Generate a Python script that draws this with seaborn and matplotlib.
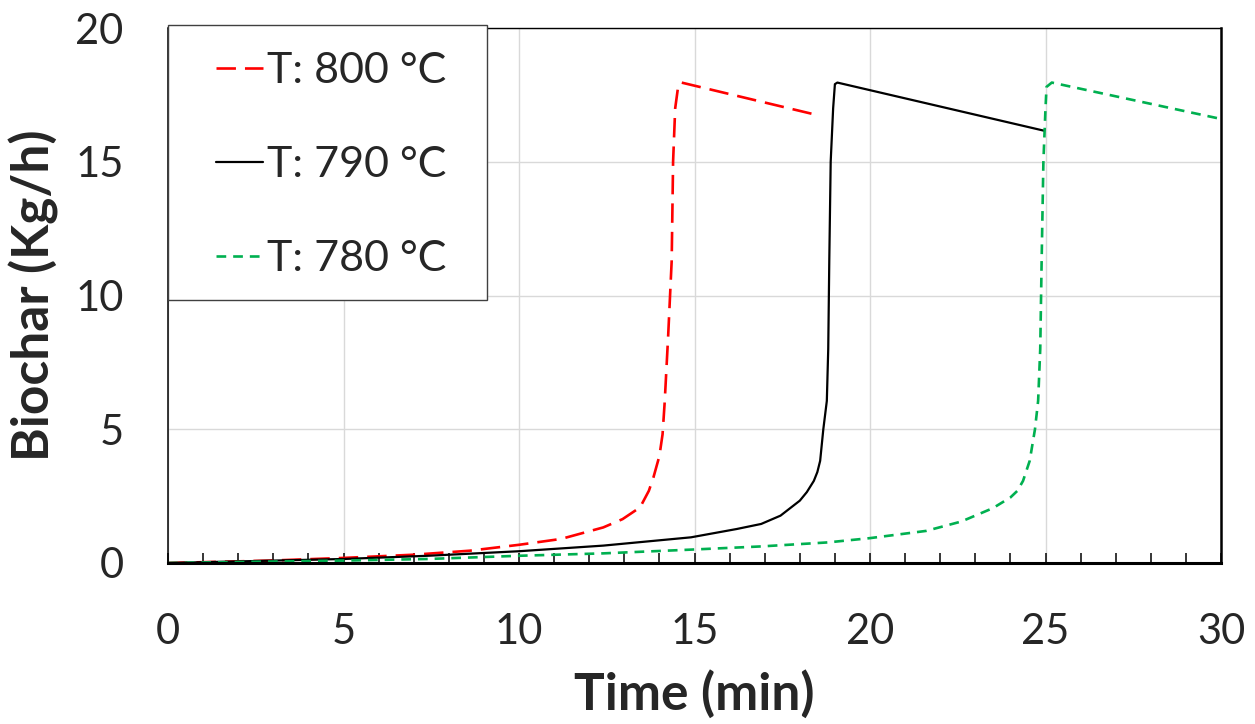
"""
Biochar production vs time for three reactor temperatures.
"""

import numpy as np
import matplotlib
matplotlib.use("Agg")
import matplotlib.pyplot as plt
from matplotlib.patches import Rectangle
from matplotlib.ticker import MultipleLocator
import seaborn as sns

# ──────────────────────────────────────────────────────────────────────────────
# Data
# ──────────────────────────────────────────────────────────────────────────────

t_800 = [0, 2.9, 5.0, 7.0, 8.6, 10.0, 11.2, 12.4, 12.95, 13.45, 13.7, 13.83,
         14.0, 14.09, 14.15, 14.25, 14.35, 14.39, 14.45, 14.54, 14.63, 18.48]
b_800 = [0, 0.09, 0.19, 0.31, 0.46, 0.68, 0.9, 1.33, 1.64, 2.08, 2.7, 3.2,
         4.0, 4.81, 6.0, 8.5, 11.3, 15.0, 17.0, 17.87, 17.96, 16.75]

t_790 = [0, 5.0, 7.4, 10.0, 12.4, 14.9, 16.2, 16.9, 17.45, 18.0, 18.2, 18.4,
         18.5, 18.58, 18.67, 18.77, 18.81, 18.84, 18.88, 18.95, 19.0, 19.07,
         24.96]
b_790 = [0, 0.15, 0.27, 0.44, 0.65, 0.96, 1.27, 1.46, 1.77, 2.33, 2.65, 3.07,
         3.4, 3.82, 5.0, 6.06, 8.0, 11.3, 15.0, 17.0, 17.9, 17.96, 16.16]

t_780 = [0, 5.0, 7.4, 10.0, 12.4, 14.9, 16.9, 18.8, 20.0, 21.6, 22.6, 23.5,
         24.0, 24.2, 24.36, 24.55, 24.7, 24.79, 24.85, 24.89, 24.94, 25.0,
         25.03, 25.18, 30.0]
b_780 = [0, 0.09, 0.15, 0.27, 0.36, 0.5, 0.62, 0.77, 0.93, 1.2, 1.55, 2.05,
         2.45, 2.7, 3.07, 3.82, 5.0, 6.06, 8.0, 11.3, 15.0, 17.0, 17.8, 17.96,
         16.6]

labels = ["T: 800 °C", "T: 790 °C", "T: 780 °C"]
x_ticks = [0, 5, 10, 15, 20, 25, 30]
y_ticks = [0, 5, 10, 15, 20]

# ──────────────────────────────────────────────────────────────────────────────
# Style
# ──────────────────────────────────────────────────────────────────────────────

sns.set_style("white")
plt.rcParams["font.family"] = ["Lato", "DejaVu Sans"]
plt.rcParams["lines.scale_dashes"] = False

W, H = 1255, 724

series = [
    (t_800, b_800, labels[0], "#ff0000", (0, (14, 6.5)), 1.9),
    (t_790, b_790, labels[1], "#000000", "-", 1.6),
    (t_780, b_780, labels[2], "#00b050", (0, (7, 5)), 1.9),
]

fig = plt.figure(figsize=(W / 100, H / 100), dpi=100)
ax = fig.add_axes([168 / W, 1 - 563 / H, (1221 - 168) / W, (563 - 28) / H])

for t, b, lab, col, ls, lw in series:
    sns.lineplot(x=t, y=b, ax=ax, color=col, linestyle=ls, lw=lw,
                 label=lab, sort=False, estimator=None)

ax.set_xlim(0, 30)
ax.set_ylim(0, 20)
ax.set_xticks(x_ticks)
ax.set_yticks(y_ticks)
ax.xaxis.set_minor_locator(MultipleLocator(1))

ax.grid(True, which="major", color="#d9d9d9", lw=1.0)
ax.set_axisbelow(True)

ax.tick_params(axis="x", which="both", bottom=True, direction="in",
               length=7, width=1.1, color="black", labelsize=30, pad=36)
ax.tick_params(axis="y", which="both", length=0, labelsize=30, pad=32)

for side, w in [("left", 1.1), ("bottom", 2.2), ("right", 1.8), ("top", 1.0)]:
    ax.spines[side].set_visible(True)
    ax.spines[side].set_color("black")
    ax.spines[side].set_linewidth(w)

ax.set_xlabel("Time (min)", fontsize=37, fontweight="bold", labelpad=14)
ax.set_ylabel("Biochar (Kg/h)", fontsize=37, fontweight="bold", labelpad=12)

# legend frame drawn separately so its padding can match the reference
frame = Rectangle((168 / W, 1 - 300 / H), (487 - 168) / W, (300 - 25) / H,
                  transform=fig.transFigure, facecolor="white",
                  edgecolor="#404040", lw=1.0, zorder=4, clip_on=False)
ax.add_patch(frame)

leg = ax.legend(loc="upper left", bbox_to_anchor=(216 / W, 1 - 52 / H),
                bbox_transform=fig.transFigure, borderaxespad=0,
                borderpad=0, fontsize=31, frameon=False,
                labelspacing=1.3, handlelength=1.1, handletextpad=0.08)
leg.set_zorder(5)

fig.savefig("out.png", dpi=100)
plt.close(fig)
